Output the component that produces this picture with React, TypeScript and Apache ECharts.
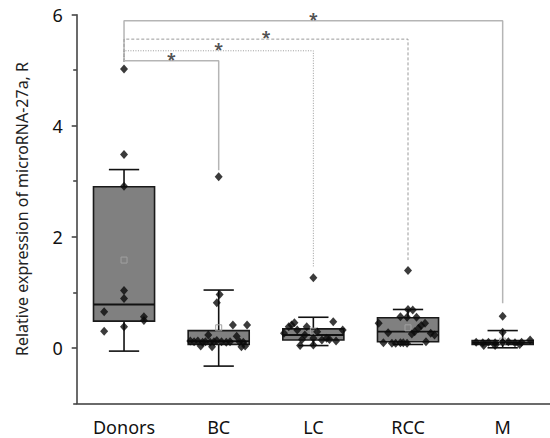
import React, { useEffect, useRef } from 'react';
import * as echarts from 'echarts';

const categories = ['Donors', 'BC', 'LC', 'RCC', 'M'];

// box statistics per group
const whiskerLow = [-0.06, -0.33, 0.04, 0.06, 0.0];
const q1 = [0.48, 0.06, 0.14, 0.11, 0.06];
const median = [0.78, 0.12, 0.23, 0.29, 0.09];
const q3 = [2.9, 0.31, 0.34, 0.54, 0.13];
const whiskerHigh = [3.21, 1.04, 0.55, 0.69, 0.31];
const means = [1.58, 0.36, 0.3, 0.36, 0.12];

// individual points: [jitter offset within band, value]
const donorsPoints = [
  [0, 5.02], [0, 3.48], [0, 2.91], [0, 1.03], [0, 0.89], [-0.21, 0.65],
  [0.21, 0.56], [0.21, 0.49], [0, 0.38], [-0.21, 0.3],
];
const bcPoints = [
  [0, 3.08], [0.01, 0.96], [-0.02, 0.81], [0.15, 0.41], [0.3, 0.41],
  [-0.11, 0.23], [0.19, 0.21],
  [-0.3, 0.12], [-0.26, 0.11], [-0.22, 0.12], [-0.17, 0.1], [-0.14, 0.11],
  [-0.09, 0.1], [-0.05, 0.11], [-0.02, 0.13], [0.03, 0.11], [0.08, 0.1],
  [0.12, 0.11], [0.22, 0.11], [0.26, 0.1],
  [-0.19, 0.03], [-0.07, 0.02], [0.24, 0.02], [0.28, 0.03],
];
const lcPoints = [
  [0, 1.26], [0.21, 0.47], [-0.2, 0.45], [-0.23, 0.41], [-0.26, 0.38],
  [-0.07, 0.38], [-0.17, 0.32], [-0.31, 0.26], [0.04, 0.29], [0.31, 0.32],
  [-0.09, 0.23], [-0.12, 0.15], [0, 0.17], [0.09, 0.14], [0.14, 0.17],
  [0.17, 0.15], [0.24, 0.12], [-0.14, 0.04], [0, 0.05],
];
const rccPoints = [
  [0, 1.39], [0, 0.69], [0.05, 0.68], [-0.08, 0.56], [0.09, 0.55], [-0.01, 0.55],
  [-0.31, 0.44], [0.18, 0.44], [0.14, 0.4], [0.11, 0.35], [0.07, 0.29],
  [0.04, 0.25], [-0.21, 0.27], [0.24, 0.26], [0.28, 0.23], [0.19, 0.11],
  [-0.26, 0.09], [-0.17, 0.08], [-0.13, 0.08], [-0.08, 0.09], [-0.05, 0.09], [-0.01, 0.08],
];
const mPoints = [
  [0, 0.57], [0, 0.28],
  [-0.28, 0.1], [-0.21, 0.09], [-0.15, 0.1], [-0.08, 0.09], [0, 0.1],
  [0.06, 0.11], [0.13, 0.09], [0.2, 0.1], [0.29, 0.14],
  [-0.2, 0.04], [-0.08, 0.04], [0.18, 0.06],
];
const groupPoints = [donorsPoints, bcPoints, lcPoints, rccPoints, mPoints];

// axis ticks
const yMajorTicks = [0, 2, 4, 6];
const yMinorTicks = [-1, 1, 3, 5];

// significance brackets from Donors to each group
const bracketTargets = [4, 3, 2, 1];
const bracketHeights = [5.89, 5.56, 5.35, 5.17];
const bracketEnds = [0.8, 1.58, 1.46, 3.2];
const bracketStart = 5.15;
const bracketMarks = ['*', '*', '*', '*'];
const bracketStyles: any[] = [
  { type: 'solid', color: '#b5b5b5', width: 1.5 },
  { type: [3, 2], color: '#9a9a9a', width: 1 },
  { type: [1, 1.5], color: '#9a9a9a', width: 1 },
  { type: 'solid', color: '#b5b5b5', width: 1.5 },
];

const FONT = '"Noto Sans", sans-serif';

export default function App() {
  const ref = useRef<HTMLDivElement>(null);
  useEffect(() => {
    if (!ref.current) return;
    const chart = echarts.init(ref.current, undefined, { renderer: 'svg' });

    const boxData = categories.map((_, i) => [
      i, whiskerLow[i], q1[i], median[i], q3[i], whiskerHigh[i], means[i],
    ]);

    const pointData: number[][] = [];
    groupPoints.forEach((pts, i) => {
      pts.forEach((p) => pointData.push([i + p[0], p[1]]));
    });

    const bracketSeries = bracketTargets.map((t, k) => ({
      type: 'line',
      xAxisIndex: 1,
      yAxisIndex: 0,
      symbol: 'none',
      silent: true,
      z: 1,
      lineStyle: bracketStyles[k],
      data: [
        [0, bracketStart],
        [0, bracketHeights[k]],
        [t, bracketHeights[k]],
        [t, bracketEnds[k]],
      ],
    }));

    const starData = bracketTargets.map((t, k) => ({
      value: [t / 2, bracketHeights[k]],
      mark: bracketMarks[k],
    }));

    const option: any = {
      animation: false,
      grid: { left: 76.7, right: -8.7, top: 14.7, bottom: 34.7, containLabel: false },
      xAxis: [
        {
          type: 'category',
          data: categories,
          boundaryGap: true,
          axisLine: { onZero: false, lineStyle: { color: '#3a3a3a', width: 1.5 } },
          axisTick: { alignWithLabel: true, length: 8, lineStyle: { color: '#3a3a3a', width: 1.5 } },
          axisLabel: { fontSize: 18, color: '#111', margin: 15, fontFamily: FONT },
          splitLine: { show: false },
        },
        {
          type: 'value',
          min: -0.5,
          max: 4.5,
          show: false,
        },
      ],
      yAxis: [
        {
          type: 'value',
          min: -1,
          max: 6,
          interval: 1,
          axisLine: { show: true, onZero: false, lineStyle: { color: '#3a3a3a', width: 1.5 } },
          axisTick: { show: true, customValues: yMajorTicks, length: 5, lineStyle: { color: '#3a3a3a', width: 1.5 } },
          axisLabel: { customValues: yMajorTicks, fontSize: 18, color: '#111', margin: 14, fontFamily: FONT },
          splitLine: { show: false },
          name: 'Relative expression of microRNA-27a, R',
          nameLocation: 'middle',
          nameGap: 47,
          nameTextStyle: { fontSize: 16, color: '#222', fontFamily: FONT },
        },
        {
          type: 'value',
          min: -1,
          max: 6,
          interval: 1,
          position: 'left',
          axisLine: { show: false, onZero: false },
          axisTick: { show: true, customValues: yMinorTicks, length: 3.5, lineStyle: { color: '#3a3a3a', width: 1.5 } },
          axisLabel: { show: false },
          splitLine: { show: false },
        },
      ],
      series: [
        ...bracketSeries,
        {
          type: 'custom',
          xAxisIndex: 1,
          yAxisIndex: 0,
          z: 2,
          silent: true,
          data: boxData,
          renderItem: (params: any, api: any) => {
            const i = api.value(0);
            const lo = api.coord([i, api.value(1)]);
            const b1 = api.coord([i, api.value(2)]);
            const md = api.coord([i, api.value(3)]);
            const b3 = api.coord([i, api.value(4)]);
            const hi = api.coord([i, api.value(5)]);
            const mn = api.coord([i, api.value(6)]);
            const band = api.size([1, 0])[0];
            const bw = band * 0.645;
            const cw = band * 0.32;
            const x = lo[0];
            const ls = { stroke: '#111', lineWidth: 1.6 };
            return {
              type: 'group',
              children: [
                { type: 'line', shape: { x1: x, y1: hi[1], x2: x, y2: b3[1] }, style: ls },
                { type: 'line', shape: { x1: x - cw / 2, y1: hi[1], x2: x + cw / 2, y2: hi[1] }, style: ls },
                { type: 'line', shape: { x1: x, y1: b1[1], x2: x, y2: lo[1] }, style: ls },
                { type: 'line', shape: { x1: x - cw / 2, y1: lo[1], x2: x + cw / 2, y2: lo[1] }, style: ls },
                {
                  type: 'rect',
                  shape: { x: x - bw / 2, y: b3[1], width: bw, height: b1[1] - b3[1] },
                  style: { fill: '#808080', stroke: '#1a1a1a', lineWidth: 1.6 },
                },
                { type: 'line', shape: { x1: x - bw / 2, y1: md[1], x2: x + bw / 2, y2: md[1] }, style: { stroke: '#111', lineWidth: 1.8 } },
                {
                  type: 'rect',
                  shape: { x: mn[0] - 3, y: mn[1] - 3, width: 6, height: 6 },
                  style: { fill: 'none', stroke: '#a0a0a0', lineWidth: 1 },
                },
              ],
            };
          },
        },
        {
          type: 'scatter',
          xAxisIndex: 1,
          yAxisIndex: 0,
          z: 3,
          symbol: 'diamond',
          symbolSize: [8, 9],
          itemStyle: { color: '#0a0a0a' },
          silent: true,
          data: pointData,
        },
        {
          type: 'scatter',
          xAxisIndex: 1,
          yAxisIndex: 0,
          z: 4,
          symbolSize: 0,
          silent: true,
          data: starData,
          label: {
            show: true,
            position: 'inside',
            offset: [0, -2],
            formatter: (p: any) => p.data.mark,
            fontSize: 16,
            fontWeight: 'bold',
            color: '#222',
            fontFamily: FONT,
          },
        },
      ],
    };
    chart.setOption(option);
    return () => chart.dispose();
  }, []);
  return (
    <div
      ref={ref}
      style={{ position: 'fixed', left: 0, top: 0, width: 550, height: 438, background: '#fff' }}
    />
  );
}
